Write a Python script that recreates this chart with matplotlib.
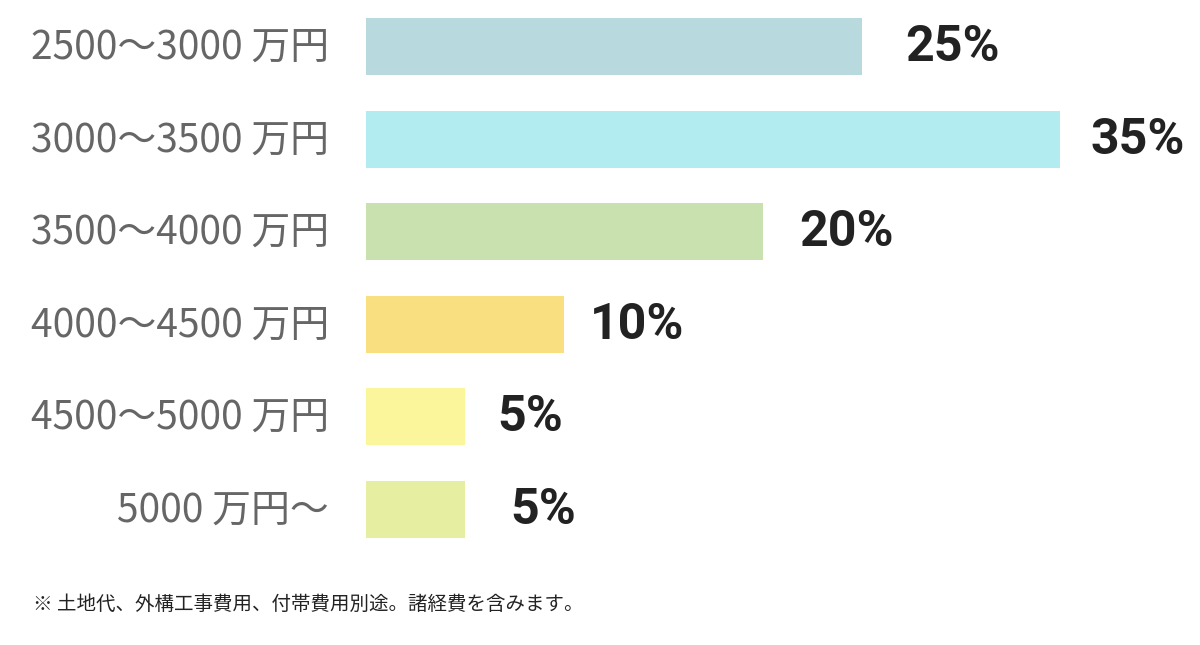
import matplotlib
matplotlib.use("Agg")
import matplotlib.pyplot as plt

categories = ["2500～3000 万円", "3000～3500 万円", "3500～4000 万円",
              "4000～4500 万円", "4500～5000 万円", "5000 万円～"]
values = [25, 35, 20, 10, 5, 5]
value_labels = ["25%", "35%", "20%", "10%", "5%", "5%"]
colors = ["#b8d9dd", "#b2ecf0", "#c9e1ae", "#f9df80", "#fbf59c", "#e6eea2"]
label_offsets_px = [44, 30, 37, 26, 32, 45]

fam = ["Roboto", "Noto Sans CJK JP", "DejaVu Sans"]
cat_fam = ["Noto Sans CJK JP", "DejaVu Sans"]

W, H = 1200, 645
fig = plt.figure(figsize=(W / 100, H / 100), dpi=100)
x0 = 366
x35 = 1060
sp = 92.5
top_c = 46.5
y_top = top_c - sp / 2
y_bot = top_c + 5 * sp + sp / 2
ax = fig.add_axes([x0 / W, 1 - y_bot / H, (x35 - x0) / W, (y_bot - y_top) / H])
ax.set_xlim(0, 35)
ax.set_ylim(len(categories) - 0.5, -0.5)
ax.axis("off")

pos = list(range(len(categories)))
ax.barh(pos, values, height=57 / sp, color=colors, left=0)

for i, (v, lab) in enumerate(zip(values, value_labels)):
    ax.annotate(lab, xy=(v, i), xytext=(label_offsets_px[i] * 0.72, -1),
                textcoords="offset points", ha="left", va="center",
                fontsize=36, fontweight="bold", color="#222222", family=fam)

for i, c in enumerate(categories):
    ax.annotate(c, xy=(0, i), xytext=(-37 * 0.72, -1), textcoords="offset points",
                ha="right", va="center", fontsize=28, color="#666666", family=cat_fam)

fig.text(33 / W, 1 - 604 / H, "※ 土地代、外構工事費用、付帯費用別途。諸経費を含みます。",
         ha="left", va="center", fontsize=14, color="#222222",
         family=["Noto Sans CJK JP", "DejaVu Sans"])

fig.savefig("out.png", dpi=100, facecolor="white")
